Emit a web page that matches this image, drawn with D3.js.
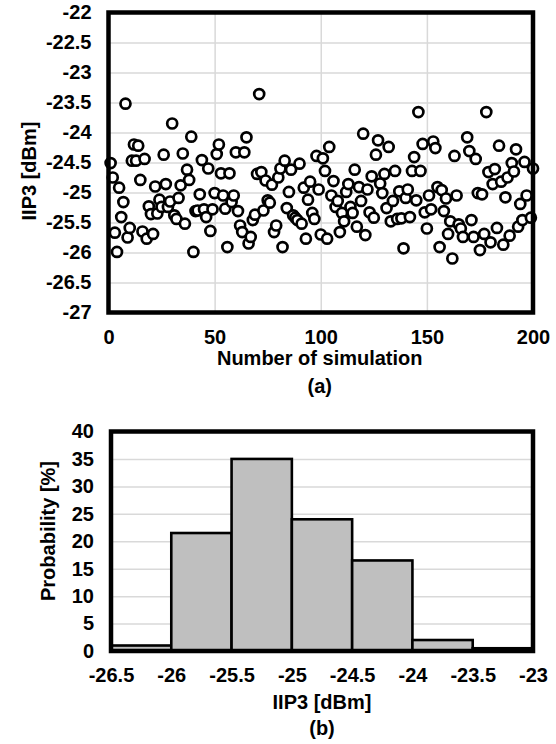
<!DOCTYPE html>
<html>
<head>
<meta charset="utf-8">
<script src="https://cdn.jsdelivr.net/npm/d3@7"></script>
<style>
  html, body { margin: 0; padding: 0; background: #fff; }
  svg { display: block; }
  text { font-family: "Liberation Sans", Arial, sans-serif; font-weight: bold; fill: #000; }
</style>
</head>
<body>
<svg id="chart" width="556" height="744"></svg>
<script>
// ---- Data: (a) Monte Carlo scatter ----
const simNo = [1,2,3,4,5,6,7,8,9,10,11,12,13,14,15,16,17,18,19,20,21,22,23,24,25,26,27,28,29,30,
  31,32,33,34,35,36,37,38,39,40,41,42,43,44,45,46,47,48,49,50,51,52,53,54,55,56,57,58,59,60,
  61,62,63,64,65,66,67,68,69,70,71,72,73,74,75,76,77,78,79,80,81,82,83,84,85,86,87,88,89,90,
  91,92,93,94,95,96,97,98,99,100,101,102,103,104,105,106,107,108,109,110,111,112,113,114,115,116,117,118,119,120,
  121,122,123,124,125,126,127,128,129,130,131,132,133,134,135,136,137,138,139,140,141,142,143,144,145,146,147,148,149,150,
  151,152,153,154,155,156,157,158,159,160,161,162,163,164,165,166,167,169,170,171,172,173,174,175,176,177,178,179,180,181,
  182,183,184,185,186,187,188,189,190,191,192,193,194,195,196,197,199,200];
const iip3 = [-24.51,-24.75,-25.67,-25.99,-24.92,-25.41,-25.16,-23.52,-25.75,-25.59,
  -24.47,-24.20,-24.47,-24.22,-24.79,-25.65,-24.44,-25.77,-25.23,-25.36,
  -25.69,-24.90,-25.35,-25.12,-25.24,-24.37,-24.86,-25.24,-25.15,-23.85,
  -25.38,-25.44,-25.09,-24.88,-24.35,-25.52,-24.62,-24.79,-24.07,-25.99,
  -25.31,-25.30,-25.03,-24.46,-25.28,-25.41,-24.60,-25.64,-25.28,-25.01,
  -24.36,-24.20,-24.68,-25.05,-25.27,-25.91,-24.68,-25.16,-25.05,-24.33,
  -25.31,-25.55,-25.66,-24.33,-24.08,-25.85,-25.74,-25.46,-25.37,-24.69,
  -23.36,-24.66,-25.30,-24.80,-25.13,-25.17,-24.87,-25.66,-25.55,-24.75,
  -24.60,-25.91,-24.47,-25.26,-24.99,-24.62,-25.38,-25.42,-25.46,-24.52,
  -25.52,-24.92,-25.77,-25.12,-24.82,-25.34,-25.44,-24.39,-24.95,-25.70,
  -24.43,-24.64,-25.77,-24.24,-25.05,-24.81,-25.24,-25.14,-25.66,-25.34,
  -25.48,-24.99,-24.86,-25.24,-25.34,-24.62,-25.57,-24.91,-25.14,-24.02,
  -25.71,-24.95,-25.33,-24.73,-25.42,-24.37,-24.13,-24.85,-25.01,-24.69,
  -25.26,-24.24,-25.48,-25.14,-24.64,-25.44,-24.98,-25.43,-25.93,-25.09,
  -24.95,-25.41,-24.64,-24.41,-25.13,-23.66,-24.64,-24.19,-25.33,-25.60,
  -25.05,-25.28,-24.15,-24.26,-24.91,-25.91,-24.96,-25.31,-25.10,-25.69,
  -25.48,-26.10,-24.39,-25.05,-25.53,-25.60,-25.74,-24.08,-24.31,-25.46,
  -25.74,-24.44,-25.01,-25.96,-25.03,-25.69,-23.66,-24.66,-25.83,-24.86,
  -24.61,-25.59,-24.22,-24.82,-25.87,-25.08,-24.75,-25.72,-24.51,-24.65,
  -24.28,-25.57,-25.19,-25.46,-24.49,-25.05,-25.42,-24.60];
const scatterXTicks = [0, 50, 100, 150, 200];
const scatterYTicks = [-27, -26.5, -26, -25.5, -25, -24.5, -24, -23.5, -23, -22.5, -22];

// ---- Data: (b) histogram ----
const binStart = [-26.5, -26, -25.5, -25, -24.5, -24, -23.5];
const binEnd   = [-26, -25.5, -25, -24.5, -24, -23.5, -23];
const probability = [1, 21.5, 35, 24, 16.5, 2, 0.5];
const histXTicks = [-26.5, -26, -25.5, -25, -24.5, -24, -23.5, -23];
const histYTicks = [0, 5, 10, 15, 20, 25, 30, 35, 40];

const fmt = d => String(d);
const svg = d3.select("#chart");
const FS = 20;

// ================= (a) scatter =================
{
  const L = 108.5, R = 533, T = 12.5, B = 312.5;
  const x = d3.scaleLinear().domain([0, 200]).range([L, R]);
  const y = d3.scaleLinear().domain([-27, -22]).range([B, T]);
  const g = svg.append("g");

  // grid
  g.append("g").attr("transform", `translate(${L},0)`)
    .call(d3.axisLeft(y).tickValues(scatterYTicks).tickSize(-(R - L)).tickFormat(""))
    .call(s => s.select(".domain").remove())
    .call(s => s.selectAll("line").attr("stroke", "#d9d9d9").attr("stroke-width", 1.5));
  g.append("g").attr("transform", `translate(0,${B})`)
    .call(d3.axisBottom(x).tickValues(scatterXTicks).tickSize(-(B - T)).tickFormat(""))
    .call(s => s.select(".domain").remove())
    .call(s => s.selectAll("line").attr("stroke", "#d9d9d9").attr("stroke-width", 1.5));

  // points
  g.append("g").selectAll("circle").data(simNo.map((s, i) => [s, iip3[i]]))
    .join("circle")
    .attr("cx", d => x(d[0])).attr("cy", d => y(d[1]))
    .attr("r", 5).attr("fill", "#fff").attr("stroke", "#000").attr("stroke-width", 2.7);

  // frame
  g.append("rect").attr("x", L).attr("y", T).attr("width", R - L).attr("height", B - T)
    .attr("fill", "none").attr("stroke", "#000").attr("stroke-width", 4.5);

  // tick labels
  g.append("g").attr("transform", `translate(${L},0)`)
    .call(d3.axisLeft(y).tickValues(scatterYTicks).tickSize(0).tickPadding(17).tickFormat(fmt))
    .call(s => s.select(".domain").remove())
    .call(s => s.selectAll("text").attr("font-size", FS).attr("font-family", null).attr("fill", "#000"));
  g.append("g").attr("transform", `translate(0,${B})`)
    .call(d3.axisBottom(x).tickValues(scatterXTicks).tickSize(0).tickPadding(17).tickFormat(fmt))
    .call(s => s.select(".domain").remove())
    .call(s => s.selectAll("text").attr("font-size", FS).attr("font-family", null).attr("fill", "#000"));

  // titles
  g.append("text").attr("x", (L + R) / 2 - 1).attr("y", 365).attr("text-anchor", "middle")
    .attr("font-size", FS).text("Number of simulation");
  g.append("text").attr("x", (L + R) / 2 - 1).attr("y", 393).attr("text-anchor", "middle")
    .attr("font-size", FS).text("(a)");
  g.append("text").attr("transform", `translate(36,171) rotate(-90)`)
    .attr("text-anchor", "middle").attr("font-size", FS).text("IIP3 [dBm]");
}

// ================= (b) histogram =================
{
  const L = 111, R = 533, T = 431.5, B = 651;
  const x = d3.scaleLinear().domain([-26.5, -23]).range([L, R]);
  const y = d3.scaleLinear().domain([0, 40]).range([B, T]);
  const g = svg.append("g");

  g.append("g").attr("transform", `translate(${L},0)`)
    .call(d3.axisLeft(y).tickValues(histYTicks).tickSize(-(R - L)).tickFormat(""))
    .call(s => s.select(".domain").remove())
    .call(s => s.selectAll("line").attr("stroke", "#d9d9d9").attr("stroke-width", 1.5));

  g.append("g").selectAll("rect").data(probability.map((p, i) => [binStart[i], binEnd[i], p]))
    .join("rect")
    .attr("x", d => x(d[0])).attr("width", d => x(d[1]) - x(d[0]))
    .attr("y", d => y(d[2])).attr("height", d => y(0) - y(d[2]))
    .attr("fill", "#bfbfbf").attr("stroke", "#000").attr("stroke-width", 2.6);

  g.append("rect").attr("x", L).attr("y", T).attr("width", R - L).attr("height", B - T)
    .attr("fill", "none").attr("stroke", "#000").attr("stroke-width", 4.5);

  g.append("g").attr("transform", `translate(${L},0)`)
    .call(d3.axisLeft(y).tickValues(histYTicks).tickSize(0).tickPadding(17).tickFormat(fmt))
    .call(s => s.select(".domain").remove())
    .call(s => s.selectAll("text").attr("font-size", FS).attr("font-family", null).attr("fill", "#000"));
  g.append("g").attr("transform", `translate(0,${B})`)
    .call(d3.axisBottom(x).tickValues(histXTicks).tickSize(0).tickPadding(17).tickFormat(fmt))
    .call(s => s.select(".domain").remove())
    .call(s => s.selectAll("text").attr("font-size", FS).attr("font-family", null).attr("fill", "#000"));

  g.append("text").attr("x", (L + R) / 2).attr("y", 709).attr("text-anchor", "middle")
    .attr("font-size", FS).text("IIP3 [dBm]");
  g.append("text").attr("x", (L + R) / 2).attr("y", 735).attr("text-anchor", "middle")
    .attr("font-size", FS).text("(b)");
  g.append("text").attr("transform", `translate(55,531) rotate(-90)`)
    .attr("text-anchor", "middle").attr("font-size", FS).text("Probability [%]");
}
</script>
</body>
</html>
